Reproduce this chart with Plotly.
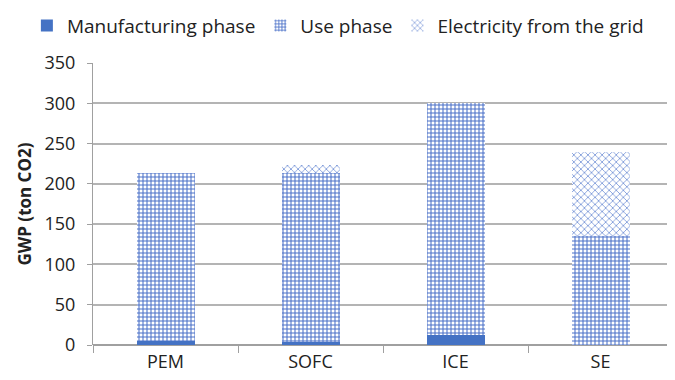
import plotly.graph_objects as go

categories = ["PEM", "SOFC", "ICE", "SE"]
manufacturing = [5, 4, 13, 0]
use_phase = [209, 210, 287, 135]
electricity = [0, 10, 0, 105]
y_ticks = [0, 50, 100, 150, 200, 250, 300, 350]

blue = "#4472C4"
fig = go.Figure()
fig.add_trace(go.Bar(name="Manufacturing phase", x=categories, y=manufacturing,
                     marker=dict(color=blue, line=dict(width=0))))
fig.add_trace(go.Bar(name="Use phase", x=categories, y=use_phase,
                     marker=dict(color="white", line=dict(width=0),
                                 pattern=dict(shape="+", fgcolor="#4A70C8", bgcolor="white",
                                              size=4, solidity=0.45, fillmode="replace"))))
fig.add_trace(go.Bar(name="Electricity from the grid", x=categories, y=electricity,
                     marker=dict(color="white", line=dict(width=0),
                                 pattern=dict(shape="x", fgcolor="#7A97D8", bgcolor="white",
                                              size=5, solidity=0.3, fillmode="replace"))))

font = "Open Sans"
txt = "#222222"
fig.update_layout(
    barmode="stack",
    bargap=0.6,
    width=667, height=372,
    margin=dict(l=85, r=2, t=55, b=35, autoexpand=False),
    plot_bgcolor="white", paper_bgcolor="white",
    font=dict(family=font, size=18, color=txt),
    showlegend=True,
    legend=dict(orientation="h", x=-0.114, xanchor="left",
                y=1.2, yanchor="top",
                font=dict(size=19, color=txt), traceorder="normal",
                itemwidth=30, tracegroupgap=0),
    xaxis=dict(showline=False, ticks="outside", tickson="boundaries", ticklen=7,
               tickcolor="#A0A0A0", showgrid=False, automargin=False,
               ticklabelstandoff=4,
               tickfont=dict(size=18, color=txt)),
    yaxis=dict(range=[0, 350], tickvals=y_ticks, showline=True, linecolor="#A0A0A0",
               ticks="outside", ticklen=5, tickcolor="#A0A0A0", showgrid=True,
               gridcolor="#B4B4B4", gridwidth=1.5, zeroline=True, zerolinecolor="#A0A0A0",
               zerolinewidth=1.5, automargin=False,
               ticklabelstandoff=8,
               title=dict(text="<b>GWP (ton CO2)</b>", font=dict(size=17, color=txt),
                          standoff=8),
               tickfont=dict(size=18, color=txt)),
)
fig.write_html("out.html")
